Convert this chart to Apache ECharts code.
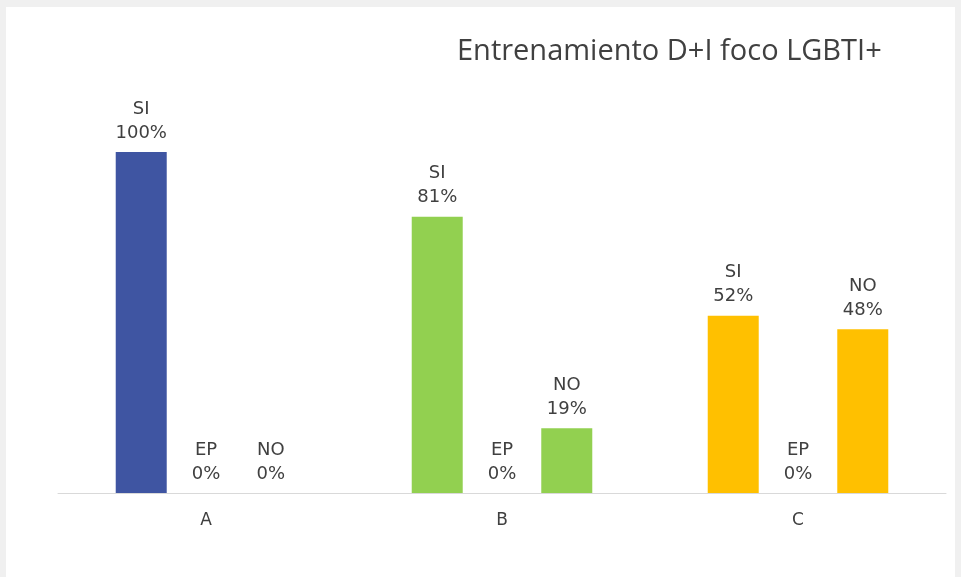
<!DOCTYPE html>
<html>
<head>
<meta charset="utf-8">
<script src="https://cdn.jsdelivr.net/npm/echarts@6/dist/echarts.min.js"></script>
<style>
  html, body { margin: 0; padding: 0; background: #f0f0f0; }
  #panel { position: absolute; left: 6px; top: 7px; width: 949px; height: 570px; background: #ffffff; }
  #chart { position: absolute; left: 0; top: 0; width: 961px; height: 577px; }
</style>
</head>
<body>
<div id="panel"></div>
<div id="chart"></div>
<script>
// groups on the x axis
let categories = ['A', 'B', 'C']
// answers, one series each
let seriesNames = ['SI', 'EP', 'NO']
let siValues = [100, 81, 52]
let epValues = [0, 0, 0]
let noValues = [0, 19, 48]
// one colour per group
let groupColors = ['#3f55a2', '#92d050', '#ffc000']

let chart = echarts.init(document.getElementById('chart'))

function makeSeries(name, values) {
    return {
        name: name,
        type: 'bar',
        barWidth: 51,
        barGap: '27%',
        data: values.map(function(v, i) {
            return { value: v, itemStyle: { color: groupColors[i] } }
        }),
        label: {
            show: true,
            position: 'top',
            distance: 7,
            color: '#404040',
            fontFamily: 'DejaVu Sans',
            fontSize: 18,
            lineHeight: 24,
            formatter: function(p) {
                return p.seriesName + '\n' + p.value + '%'
            }
        }
    }
}

let option = {
    animation: false,
    title: {
        text: 'Entrenamiento D+I foco LGBTI+',
        left: 452,
        top: 32,
        textStyle: {
            fontFamily: 'Open Sans',
            fontWeight: 'normal',
            fontSize: 29,
            color: '#404040'
        }
    },
    grid: { left: 58, right: 15, top: 152, bottom: 84 },
    xAxis: {
        type: 'category',
        data: categories,
        axisLine: { lineStyle: { color: '#d9d9d9', width: 1 } },
        axisTick: { show: false },
        axisLabel: {
            color: '#404040',
            fontFamily: 'DejaVu Sans',
            fontSize: 17,
            margin: 19
        }
    },
    yAxis: {
        type: 'value',
        min: 0,
        max: 100,
        show: false,
        splitLine: { show: false }
    },
    series: [
        makeSeries(seriesNames[0], siValues),
        makeSeries(seriesNames[1], epValues),
        makeSeries(seriesNames[2], noValues)
    ]
}

chart.setOption(option)
</script>
</body>
</html>
